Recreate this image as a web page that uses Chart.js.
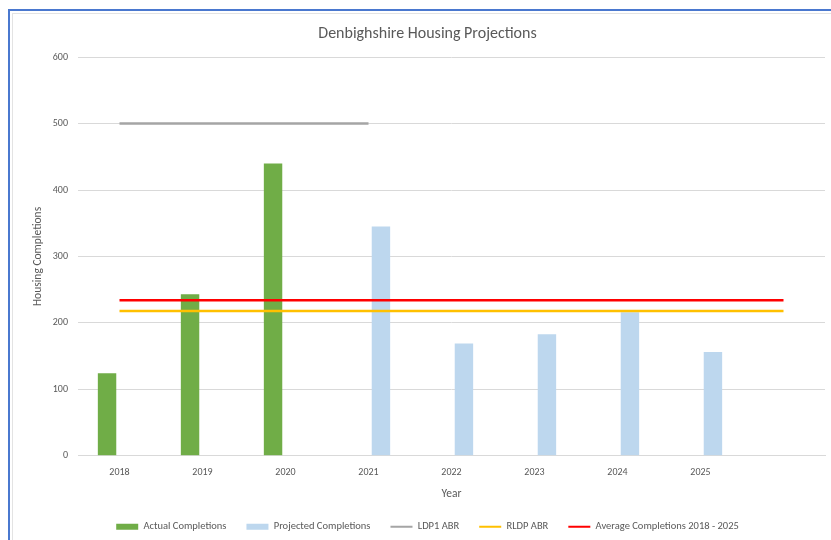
<!DOCTYPE html>
<html>
<head>
<meta charset="utf-8">
<script src="https://cdn.jsdelivr.net/npm/chart.js@4.4.1/dist/chart.umd.min.js"></script>
<style>
  html, body { margin: 0; padding: 0; background: #ffffff; width: 831px; height: 540px; overflow: hidden; }
  #frame { position: absolute; left: 8px; top: 9px; width: 830px; height: 540px; border-top: 2px solid #4a78cf; border-left: 2px solid #4a78cf; }
  #inner { position: absolute; left: 12px; top: 13px; width: 830px; height: 540px; border-top: 1px solid #e3e3e3; border-left: 1px solid #e3e3e3; }
  #wrap { position: absolute; left: 14px; top: 14px; width: 817px; height: 526px; }
</style>
</head>
<body>
<div id="frame"></div>
<div id="inner"></div>
<div id="wrap"><canvas id="c"></canvas></div>
<script>
const years = ['2018', '2019', '2020', '2021', '2022', '2023', '2024', '2025', ''];
const actualCompletions = [124, 243, 440, null, null, null, null, null, null];
const projectedCompletions = [null, null, null, 345, 169, 183, 216, 156, null];
const ldp1ABR = [500, 500, 500, 500, null, null, null, null, null];
const rldpABR = [218, 218, 218, 218, 218, 218, 218, 218, 218];
const averageCompletions = [234, 234, 234, 234, 234, 234, 234, 234, 234];
const yTicks = [0, 100, 200, 300, 400, 500, 600];

const FONT = "Carlito, Lato, 'Liberation Sans', sans-serif";
const GREY = '#595959';

new Chart(document.getElementById('c'), {
  type: 'bar',
  data: {
    labels: years,
    datasets: [
      { type: 'bar', label: 'Actual Completions', data: actualCompletions, backgroundColor: '#70ad47', order: 2,
        categoryPercentage: 0.6, barPercentage: 0.74 },
      { type: 'bar', label: 'Projected Completions', data: projectedCompletions, backgroundColor: '#bdd7ee', order: 2,
        categoryPercentage: 0.6, barPercentage: 0.74 },
      { type: 'line', label: 'LDP1 ABR', data: ldp1ABR, borderColor: '#a5a5a5', backgroundColor: '#a5a5a5', borderWidth: 2.5, pointRadius: 0, order: 1, spanGaps: false },
      { type: 'line', label: 'RLDP ABR', data: rldpABR, borderColor: '#ffc000', backgroundColor: '#ffc000', borderWidth: 2.5, pointRadius: 0, order: 1 },
      { type: 'line', label: 'Average Completions 2018 - 2025', data: averageCompletions, borderColor: '#ff0000', backgroundColor: '#ff0000', borderWidth: 2.5, pointRadius: 0, order: 1 }
    ]
  },
  options: {
    responsive: true,
    maintainAspectRatio: false,
    animation: false,
    layout: { padding: { top: 0, right: 6, bottom: -2, left: 16 } },
    plugins: {
      tooltip: { enabled: false },
      title: {
        display: true,
        text: 'Denbighshire Housing Projections',
        color: GREY,
        font: { family: FONT, size: 16, weight: 'normal' },
        padding: { top: 10, bottom: 14 }
      },
      legend: {
        position: 'bottom',
        labels: {
          color: GREY,
          font: { family: FONT, size: 10.5 },
          usePointStyle: true,
          pointStyleWidth: 22,
          boxHeight: 6,
          padding: 20,
          sort: (a, b) => a.datasetIndex - b.datasetIndex,
          generateLabels: (chart) => {
            const items = Chart.defaults.plugins.legend.labels.generateLabels(chart);
            items.forEach(it => {
              const ds = chart.data.datasets[it.datasetIndex];
              if (ds.type === 'line') {
                it.pointStyle = 'line';
                it.lineWidth = 2;
                it.strokeStyle = ds.borderColor;
              } else {
                it.pointStyle = 'rect';
                it.lineWidth = 0;
                it.fillStyle = ds.backgroundColor;
                it.strokeStyle = ds.backgroundColor;
              }
            });
            return items;
          }
        }
      }
    },
    scales: {
      x: {
        grid: { display: false, drawTicks: false },
        border: { display: true, color: '#d9d9d9', width: 1 },
        ticks: { color: GREY, font: { family: FONT, size: 10 }, padding: 11, maxRotation: 0, autoSkip: false },
        title: { display: true, text: 'Year', color: GREY, font: { family: FONT, size: 11.5 }, padding: { top: -2, bottom: 0 } }
      },
      y: {
        min: 0, max: 600,
        afterBuildTicks: (scale) => { scale.ticks = yTicks.map(v => ({ value: v })); },
        afterFit: (scale) => { scale.width = 48; },
        grid: { color: '#d9d9d9', lineWidth: 1, drawTicks: false },
        border: { display: false },
        ticks: { color: GREY, font: { family: FONT, size: 10 }, padding: 10 },
        title: { display: true, text: 'Housing Completions', color: GREY, font: { family: FONT, size: 11.5 }, padding: { top: 1, bottom: 8 } }
      }
    }
  }
});
</script>
</body>
</html>
